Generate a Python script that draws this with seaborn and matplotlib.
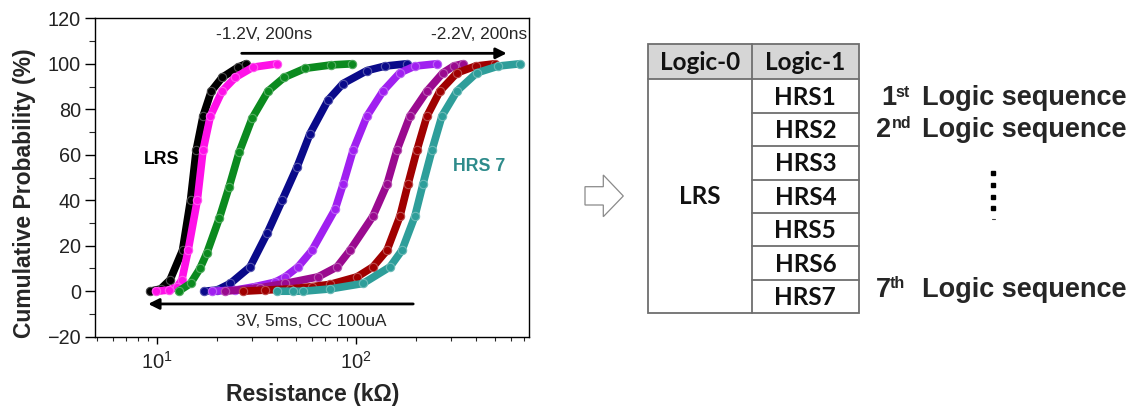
import numpy as np
import pandas as pd
import matplotlib
matplotlib.use("Agg")
import matplotlib.pyplot as plt
import seaborn as sns
from matplotlib.patches import Polygon, Rectangle
from matplotlib.ticker import MultipleLocator, LogLocator, NullFormatter
from matplotlib.colors import to_rgb

# ---------------- data ----------------
states = ["LRS", "HRS1", "HRS2", "HRS3", "HRS4", "HRS5", "HRS6", "HRS7"]
colors = ["#000000", "#ff10e8", "#0b8a1f", "#0a0a8a", "#a020f0", "#9a0a8f", "#a00000", "#2e9e9a"]

lrs_r = [9.2, 10.4, 11.6, 13.4, 14.7, 15.7, 17.0, 18.7, 21.2, 25.5, 28.0]
lrs_p = [0, 1, 5, 18, 40, 62, 77, 88, 94, 98.5, 100]

hrs1_r = [9.8, 11.5, 12.6, 13.3, 14.3, 15.9, 17.0, 18.5, 21.2, 24.7, 30.3, 40.1]
hrs1_p = [0, 0.5, 2, 5, 18, 40, 62, 77, 88, 94, 98.5, 100]

hrs2_r = [12.8, 14.7, 16.4, 17.8, 20.5, 23.0, 25.8, 30.0, 36.1, 43.5, 55.5, 75.0, 95.5]
hrs2_p = [0, 3.4, 10, 17, 32, 46, 61, 76, 88, 94, 98, 99.5, 100]

hrs3_r = [17.2, 20.0, 23.3, 29.3, 35.7, 42.5, 50.5, 58.7, 72.3, 86.0, 113.5, 140, 180]
hrs3_p = [0, 0.5, 3.4, 10.7, 25.4, 40, 54.6, 69.3, 84, 91.3, 97, 99, 100]

hrs4_r = [18.9, 24.7, 31.0, 39.2, 44.0, 51.1, 60.1, 78.5, 86.1, 96.7, 113.5, 136.7, 166, 198, 255]
hrs4_p = [0, 0.5, 2, 4, 6.3, 10.7, 18, 36, 47, 62, 77, 88, 96, 99, 100]

hrs5_r = [22.0, 33.0, 44.0, 64.4, 80.3, 93.3, 121.7, 143.2, 160.6, 186.7, 227.5, 273.5, 310, 345]
hrs5_p = [0, 1.5, 3.4, 6.3, 10.7, 18, 33, 47, 62, 77, 88, 96, 99, 100]

hrs6_r = [27.1, 35.0, 46.6, 60.0, 74.0, 101.2, 121.7, 143.2, 166.4, 182.5, 202.6, 227.5, 264.4, 322, 400, 499]
hrs6_p = [0, 0.5, 1, 2, 3, 6.3, 10.7, 18, 33, 47, 62, 77, 88, 96, 99, 100]

hrs7_r = [40.1, 48.2, 54.2, 74.0, 108.4, 148.3, 170.3, 197.8, 217.1, 241, 270.6, 322, 405, 520, 667]
hrs7_p = [0, 0, 0, 1, 3.4, 10.7, 18, 33, 47, 62, 77, 88, 96, 99, 100]

series_r = [lrs_r, hrs1_r, hrs2_r, hrs3_r, hrs4_r, hrs5_r, hrs6_r, hrs7_r]
series_p = [lrs_p, hrs1_p, hrs2_p, hrs3_p, hrs4_p, hrs5_p, hrs6_p, hrs7_p]

y_ticks = [-20, 0, 20, 40, 60, 80, 100, 120]

table_header = ["Logic-0", "Logic-1"]
logic0_label = "LRS"
logic1_labels = ["HRS1", "HRS2", "HRS3", "HRS4", "HRS5", "HRS6", "HRS7"]
seq_nums = ["1", "2", "7"]
seq_sups = ["st", "nd", "th"]
seq_text = "Logic sequence"

# ---------------- style ----------------
sns.set_style("ticks")
plt.rcParams["font.family"] = ["Liberation Sans", "DejaVu Sans"]
plt.rcParams["mathtext.fontset"] = "custom"
plt.rcParams["mathtext.rm"] = "Liberation Sans"
plt.rcParams["mathtext.it"] = "Liberation Sans"

W, H = 1134, 409
fig = plt.figure(figsize=(W / 100, H / 100), dpi=100)
fig.patch.set_facecolor("white")

ax_l, ax_r, ax_t, ax_b = 95, 529, 18.3, 336.7
ax = fig.add_axes([ax_l / W, 1 - ax_b / H, (ax_r - ax_l) / W, (ax_b - ax_t) / H])
ax.set_facecolor("white")

frames = []
for st, r, p in zip(states, series_r, series_p):
    frames.append(pd.DataFrame({"R": r, "P": p, "state": st}))
df = pd.concat(frames, ignore_index=True)

ax.set_xscale("log")
sns.lineplot(data=df, x="R", y="P", hue="state", hue_order=states, palette=colors,
             sort=False, estimator=None, linewidth=5.5, marker="o", markersize=6,
             legend=False, ax=ax, solid_capstyle="round", solid_joinstyle="round")
for line in ax.lines:
    c = np.array(to_rgb(line.get_color()))
    line.set_markerfacecolor(tuple(c))
    line.set_markeredgecolor(tuple(c * 0.7 + 0.3))
    line.set_markeredgewidth(0.8)

ax.set_xlim(4.86, 742)
ax.set_ylim(-20, 120)
ax.set_yticks(y_ticks)
ax.yaxis.set_minor_locator(MultipleLocator(10))
ax.xaxis.set_major_locator(LogLocator(base=10, numticks=10))
ax.xaxis.set_minor_locator(LogLocator(base=10, subs=np.arange(2, 10), numticks=20))
ax.xaxis.set_minor_formatter(NullFormatter())

for s in ax.spines.values():
    s.set_visible(True)
    s.set_linewidth(1.0)
    s.set_color("black")
ax.tick_params(axis="y", which="major", direction="out", length=7, width=1, labelsize=14.3, pad=3)
ax.tick_params(axis="y", which="minor", direction="out", length=4, width=0.8)
ax.tick_params(axis="x", which="major", direction="out", length=5, width=1, labelsize=14.5, pad=5)
ax.tick_params(axis="x", which="minor", direction="out", length=3, width=0.8)
ax.tick_params(labelcolor="#222222", colors="black")

ax.set_xlabel("Resistance (k\u03a9)", fontsize=16.5, fontweight="bold")
ax.set_ylabel("Cumulative Probability (%)", fontsize=16.5, fontweight="bold")
ax.xaxis.set_label_coords(0.502, -0.145)
ax.yaxis.set_label_coords(-0.135, 0.45)
ax.xaxis.label.set_va("top")

# annotations
ax.annotate("", xy=(573, 104.6), xytext=(26.6, 104.6),
            arrowprops=dict(arrowstyle="-|>", lw=2, color="black", mutation_scale=16,
                            shrinkA=0, shrinkB=0))
ax.annotate("", xy=(9.0, -5.6), xytext=(194, -5.6),
            arrowprops=dict(arrowstyle="-|>", lw=2, color="black", mutation_scale=16,
                            shrinkA=0, shrinkB=0))
ax.text(34.4, 112.7, "-1.2V, 200ns", ha="center", va="center", fontsize=12.4)
ax.text(418, 112.7, "-2.2V, 200ns", ha="center", va="center", fontsize=12.4)
ax.text(59.6, -13.4, "3V, 5ms, CC 100uA", ha="center", va="center", fontsize=12.4)
ax.text(10.5, 57.7, "LRS", ha="center", va="center", fontsize=12.8, fontweight="bold", color="black")
ax.text(417, 54.7, "HRS 7", ha="center", va="center", fontsize=12.8, fontweight="bold", color="#2e8b8b")

# ---------------- right-hand panel (pixel coordinates) ----------------
ov = fig.add_axes([0, 0, 1, 1])
ov.set_xlim(0, W)
ov.set_ylim(H, 0)
ov.axis("off")
ov.patch.set_alpha(0)

arrow_pts = [(585, 186.7), (603.3, 186.7), (603.3, 175), (623.3, 196), (603.3, 216.7), (603.3, 205), (585, 205)]
ov.add_patch(Polygon(arrow_pts, closed=True, facecolor="white", edgecolor="#8a8a8a", lw=0.9))

x0, x1, x2 = 648.3, 751.7, 859.0
yt, yh = 44.0, 79.3
nrows = len(logic1_labels)
rh = (313.3 - yh) / nrows
lc = "#6e6e6e"
tfont = ["Lato", "DejaVu Sans"]
tsize = 17.5
ov.add_patch(Rectangle((x0, yt), x2 - x0, yh - yt, facecolor="#d6d6d6", edgecolor="none"))
ov.add_patch(Rectangle((x0, yt), x2 - x0, yh + nrows * rh - yt, facecolor="none", edgecolor=lc, lw=1.3))
ov.plot([x1, x1], [yt, yh + nrows * rh], color=lc, lw=1.3)
ov.plot([x0, x2], [yh, yh], color=lc, lw=1.3)
for i in range(1, nrows):
    ov.plot([x1, x2], [yh + i * rh, yh + i * rh], color=lc, lw=1.3)
ov.text((x0 + x1) / 2, (yt + yh) / 2 + 1, table_header[0], ha="center", va="center",
        fontsize=tsize, fontweight="bold", family=tfont, color="#111111")
ov.text((x1 + x2) / 2, (yt + yh) / 2 + 1, table_header[1], ha="center", va="center",
        fontsize=tsize, fontweight="bold", family=tfont, color="#111111")
ov.text((x0 + x1) / 2, yh + nrows * rh / 2, logic0_label, ha="center", va="center",
        fontsize=tsize, fontweight="bold", family=tfont, color="#111111")
for i, lab in enumerate(logic1_labels):
    ov.text((x1 + x2) / 2, yh + (i + 0.5) * rh + 1, lab, ha="center", va="center",
            fontsize=tsize, fontweight="bold", family=tfont, color="#111111")

seq_y = [98.3, 130.0, 290.0]
num_x = [881.7, 876.0, 876.0]
sup_x = [895.0, 891.7, 890.0]
for yy, nx, sx, n, sp in zip(seq_y, num_x, sup_x, seq_nums, seq_sups):
    ov.text(nx, yy, n, ha="left", va="center", fontsize=19.5, fontweight="bold")
    ov.text(sx, yy - 6, sp, ha="left", va="center", fontsize=11.5, fontweight="bold")
    ov.text(1127, yy, seq_text, ha="right", va="center", fontsize=19.5, fontweight="bold")

dot_y = [173.3, 185.0, 196.7, 208.3]
ov.plot([993.3] * len(dot_y), dot_y, ls="none", marker="s", ms=3.2, color="black")
ov.plot([991.5, 995.1], [219.3, 219.3], color="#444444", lw=0.8)

fig.savefig("out.png", dpi=100, facecolor="white")
